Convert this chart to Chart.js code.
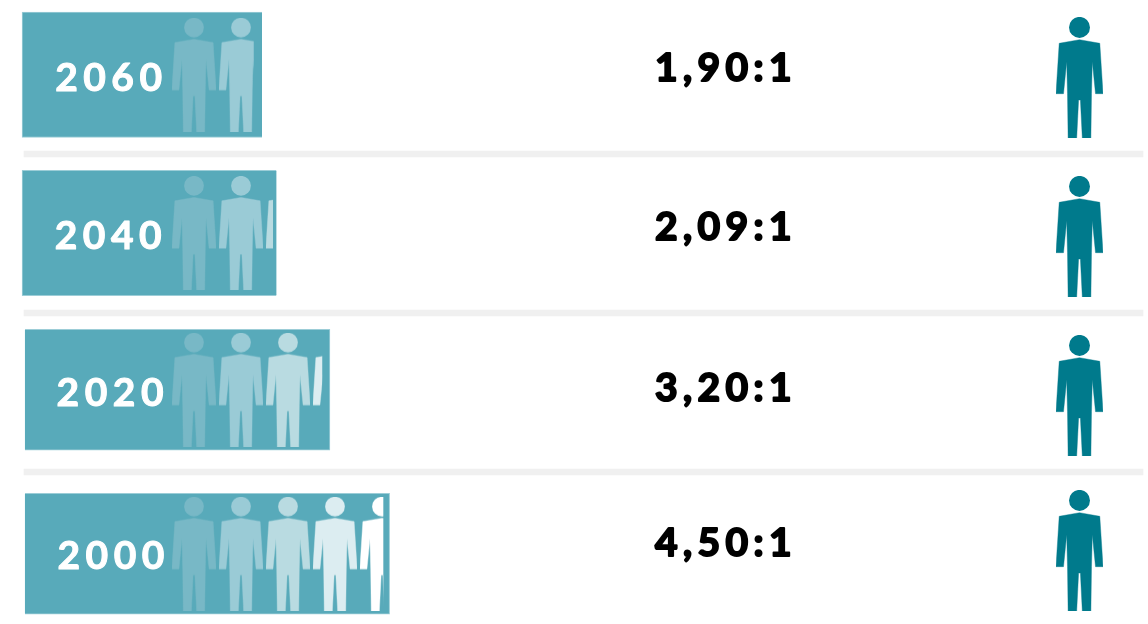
<!DOCTYPE html>
<html><head><meta charset="utf-8">
<script src="https://cdn.jsdelivr.net/npm/chart.js@4/dist/chart.umd.min.js"></script>
<style>html,body{margin:0;padding:0;background:#fff;overflow:hidden}canvas{display:block}</style>
</head><body><canvas id="c" width="1148" height="624"></canvas>
<script>
// data (x axis unit = one person)
const years = ['2060','2040','2020','2000'];
const ratioLabels = ['1,90:1','2,09:1','3,20:1','4,50:1'];
const barStart = [-3.19,-3.19,-3.13,-3.13];
const barEnd = [1.915,2.223,3.36,4.63];
const peopleShown = [1.79,2.16,3.21,4.53];

// layout, in canvas-like units of the y axis
const rowY = [74.75,233,389.75,553.75];
const yearY = [78.5,236.5,393.5,556.5];
const yearX = [-1.29,-1.30,-1.26,-1.24];
const ratioY = [68.5,227.5,388.5,543.5];
const manY = [77.5,236.5,395.5,550.5];
const sepY = [154,313,472];
const PITCH = 47, ORIGIN = 172;
const fades = ['#78b8c6','#9acbd6','#b9dbe1','#dcedf1','#ffffff'];

function manPath(c,s){
  c.beginPath(); c.arc(0,10.4*s,10.5*s,0,Math.PI*2); c.fill();
  const p=[[-20.3,26.3],[0,22.7],[20.3,26.3],[23.5,76.7],[16,76.7],[12.8,44.7],[12,76.7],[11.4,121],[2.8,121],[0.9,83],[-0.9,83],[-2.8,121],[-11.4,121],[-12,76.7],[-12.8,44.7],[-16,76.7],[-23.5,76.7]];
  c.beginPath(); p.forEach((q,i)=>{ i?c.lineTo(q[0]*s,q[1]*s):c.moveTo(q[0]*s,q[1]*s); }); c.closePath(); c.fill();
  c.lineWidth=0.4; c.stroke();
}
function manCanvas(w,h,color,frac){
  const k=document.createElement('canvas'); k.width=w; k.height=h;
  const c=k.getContext('2d');
  c.beginPath(); c.rect(0,0,w*frac,h); c.clip();
  c.translate(w/2,0); c.fillStyle=color; c.strokeStyle=color; manPath(c,h/121);
  return k;
}
const crowd=[];
years.forEach((y,i)=>{
  for(let j=0;j<Math.ceil(peopleShown[i]);j++){
    crowd.push({x:j+22/PITCH,y:rowY[i],img:manCanvas(44,114,fades[j],Math.min(1,peopleShown[i]-j))});
  }
});
const bigMan=manCanvas(47,121,'#007a8c',1);
const barPts=i=>({x:[barStart[i],barEnd[i]],y:rowY[i]});

function heavyText(c,t,x,y,color,lw){
  c.fillStyle=color; c.strokeStyle=color; c.lineWidth=lw; c.lineJoin='round';
  c.fillText(t,x,y); c.strokeText(t,x,y);
}
const textPlugin={id:'rowText',afterDatasetsDraw(ch){
  const c=ch.ctx,X=ch.scales.x,Y=ch.scales.y;
  c.save(); c.textAlign='center'; c.textBaseline='middle';
  years.forEach((t,i)=>{
    c.font='bold 39px Lato'; c.letterSpacing='5.5px';
    heavyText(c,t,X.getPixelForValue(yearX[i]),Y.getPixelForValue(yearY[i]),'#ffffff',1);
    c.font='bold 39px Lato'; c.letterSpacing='5.4px';
    heavyText(c,ratioLabels[i],X.getPixelForValue((726-ORIGIN)/PITCH),Y.getPixelForValue(ratioY[i]),'#000000',2);
  });
  c.restore();
}};
new Chart(document.getElementById('c'),{
  type:'bar',
  data:{datasets:[
    {type:'scatter',order:0,data:crowd,pointRadius:20,pointStyle:x=>x.raw.img},
    {type:'scatter',order:0,data:manY.map(y=>({x:(1079.5-ORIGIN)/PITCH,y})),pointRadius:20,pointStyle:bigMan},
    {indexAxis:'y',order:1,grouped:false,barThickness:125.5,backgroundColor:'#58aaba',borderColor:'#9ccdd7',borderWidth:1,data:[barPts(0),barPts(1)]},
    {indexAxis:'y',order:1,grouped:false,barThickness:121,backgroundColor:'#58aaba',borderColor:'#9ccdd7',borderWidth:1,data:[barPts(2),barPts(3)]},
    {indexAxis:'y',order:2,grouped:false,barThickness:6,backgroundColor:'#f0f0f0',data:sepY.map(y=>({x:[(24-ORIGIN)/PITCH,(1143-ORIGIN)/PITCH],y}))}
  ]},
  options:{
    responsive:false,animation:false,events:[],
    layout:{padding:0,autoPadding:false},
    plugins:{legend:{display:false},tooltip:{enabled:false}},
    scales:{
      x:{type:'linear',display:false,offset:false,min:-ORIGIN/PITCH,max:(1148-ORIGIN)/PITCH},
      y:{type:'linear',display:false,offset:false,reverse:true,min:0,max:624}
    }
  },
  plugins:[textPlugin]
});
</script></body></html>
